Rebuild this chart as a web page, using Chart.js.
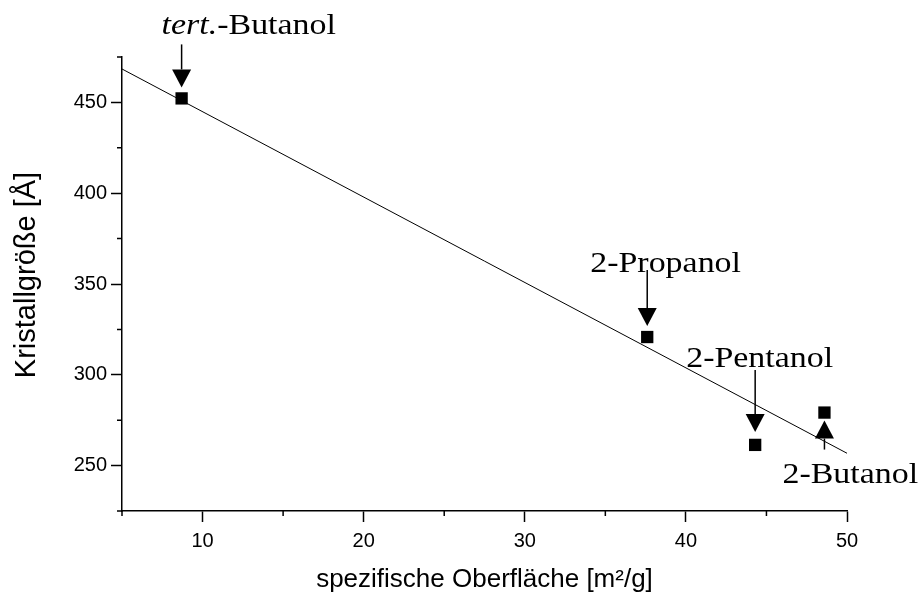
<!DOCTYPE html>
<html>
<head>
<meta charset="utf-8">
<title>Kristallgröße vs. spezifische Oberfläche</title>
<script src="https://cdn.jsdelivr.net/npm/chart.js@4.4.1/dist/chart.umd.min.js"></script>
<style>
  html, body { margin: 0; padding: 0; background: #fff; }
  #wrap { width: 922px; height: 597px; }
</style>
</head>
<body>
<div id="wrap"><canvas id="myChart" width="922" height="597"></canvas></div>
<script>
const ctx = document.getElementById("myChart");

// measured samples (alcohol used in synthesis)
const alkohole = ['tert.-Butanol', '2-Propanol', '2-Pentanol', '2-Butanol'];
const oberflaeche = [8.7, 37.6, 44.3, 48.6];   // m²/g
const kristallgroesse = [452.2, 320.8, 261.4, 279.2]; // Å

// fitted straight line, end points
const fitX = [5, 50];
const fitY = [468.4, 256.8];

// axis ticks
const xTicks = [10, 20, 30, 40, 50];
const yTicks = [250, 300, 350, 400, 450];

// arrow + label placement around each point (pixels)
const marker = [
  { dir: -1, tip: 11, tail: 54, dx: -20, dy: -64, italic: 'tert.', text: '-Butanol' },
  { dir: -1, tip: 11, tail: 67, dx: -57, dy: -65, italic: '', text: '2-Propanol' },
  { dir: -1, tip: 13, tail: 75, dx: -69, dy: -78, italic: '', text: '2-Pentanol' },
  { dir: 1, tip: 8, tail: 37, dx: -42, dy: 70, italic: '', text: '2-Butanol' }
];

const sans = "'Liberation Sans', Arial, sans-serif";
const serif = "'Liberation Serif', 'Times New Roman', serif";

// short minor ticks at the unlabeled steps
const minorTicks = {
  id: 'minorTicks',
  afterDraw(chart) {
    const c = chart.ctx;
    const xs = chart.scales.x, ys = chart.scales.y;
    c.save();
    c.strokeStyle = '#000';
    c.lineWidth = 1.5;
    c.beginPath();
    for (let v = 5; v <= 50; v += 10) {
      const px = xs.getPixelForValue(v);
      c.moveTo(px, ys.bottom);
      c.lineTo(px, ys.bottom + 5);
    }
    for (let v = 225; v <= 475; v += 50) {
      const py = ys.getPixelForValue(v);
      c.moveTo(xs.left, py);
      c.lineTo(xs.left - 5, py);
    }
    c.stroke();

    // y axis title, sits a bit above the middle of the axis
    c.save();
    c.translate(35, 275);
    c.rotate(-Math.PI / 2);
    c.font = '29px ' + sans;
    c.fillStyle = '#000';
    c.textAlign = 'center';
    c.textBaseline = 'alphabetic';
    c.fillText('Kristallgröße [Å]', 0, 0);
    c.restore();
    c.restore();
  }
};

// arrows pointing at the samples, with their names
const arrowLabels = {
  id: 'arrowLabels',
  afterDatasetsDraw(chart) {
    const c = chart.ctx;
    const xs = chart.scales.x, ys = chart.scales.y;
    c.save();
    c.fillStyle = '#000';
    c.strokeStyle = '#000';
    marker.forEach((m, i) => {
      const px = xs.getPixelForValue(oberflaeche[i]);
      const py = ys.getPixelForValue(kristallgroesse[i]);
      const tipY = py + m.dir * m.tip;
      const tailY = py + m.dir * m.tail;
      const headY = tipY + m.dir * 18;
      c.lineWidth = 1.5;
      c.beginPath();
      c.moveTo(px, tailY);
      c.lineTo(px, headY);
      c.stroke();
      c.beginPath();
      c.moveTo(px, tipY);
      c.lineTo(px - 9.5, headY);
      c.lineTo(px + 9.5, headY);
      c.closePath();
      c.fill();

      // serif label, slightly widened
      c.save();
      c.translate(px + m.dx, py + m.dy);
      c.scale(1.15, 1);
      c.textBaseline = 'alphabetic';
      c.textAlign = 'left';
      let x = 0;
      if (m.italic) {
        c.font = 'italic 29.5px ' + serif;
        c.fillText(m.italic, 0, 0);
        x = c.measureText(m.italic).width;
      }
      c.font = '29.5px ' + serif;
      c.fillText(m.text, x, 0);
      c.restore();
    });
    c.restore();
  }
};

new Chart(ctx, {
  type: 'scatter',
  data: {
    datasets: [{
      label: 'Kristallgröße',
      data: oberflaeche.map((x, i) => ({ x: x, y: kristallgroesse[i] })),
      pointStyle: 'rect',
      pointRadius: 8.7,
      pointHoverRadius: 8.7,
      backgroundColor: '#000',
      borderColor: '#000',
      borderWidth: 0
    }, {
      type: 'line',
      label: 'Fit',
      data: fitX.map((x, i) => ({ x: x, y: fitY[i] })),
      borderColor: '#000',
      borderWidth: 1,
      pointRadius: 0,
      fill: false
    }]
  },
  options: {
    responsive: false,
    animation: false,
    devicePixelRatio: 1,
    layout: { padding: { top: 57, right: 75, left: 0, bottom: 0 } },
    plugins: {
      legend: { display: false },
      tooltip: { enabled: false }
    },
    scales: {
      x: {
        type: 'linear',
        min: 5,
        max: 50,
        afterFit(scale) { scale.height = 86; },
        afterBuildTicks(scale) { scale.ticks = xTicks.map(v => ({ value: v })); },
        ticks: {
          color: '#000',
          padding: 7,
          maxRotation: 0,
          font: { family: sans, size: 20 }
        },
        grid: { drawOnChartArea: false, tickLength: 11, tickColor: '#000', tickWidth: 1.5 },
        border: { color: '#000', width: 1.5 },
        title: {
          display: true,
          text: 'spezifische Oberfläche [m²/g]',
          color: '#000',
          font: { family: sans, size: 26 },
          padding: { top: 0, bottom: 2 }
        }
      },
      y: {
        type: 'linear',
        min: 225,
        max: 475,
        afterFit(scale) { scale.width = 122; },
        afterBuildTicks(scale) { scale.ticks = yTicks.map(v => ({ value: v })); },
        ticks: {
          color: '#000',
          padding: 4,
          font: { family: sans, size: 20 }
        },
        grid: { drawOnChartArea: false, tickLength: 11, tickColor: '#000', tickWidth: 1.5 },
        border: { color: '#000', width: 1.5 }
      }
    }
  },
  plugins: [minorTicks, arrowLabels]
});
</script>
</body>
</html>
